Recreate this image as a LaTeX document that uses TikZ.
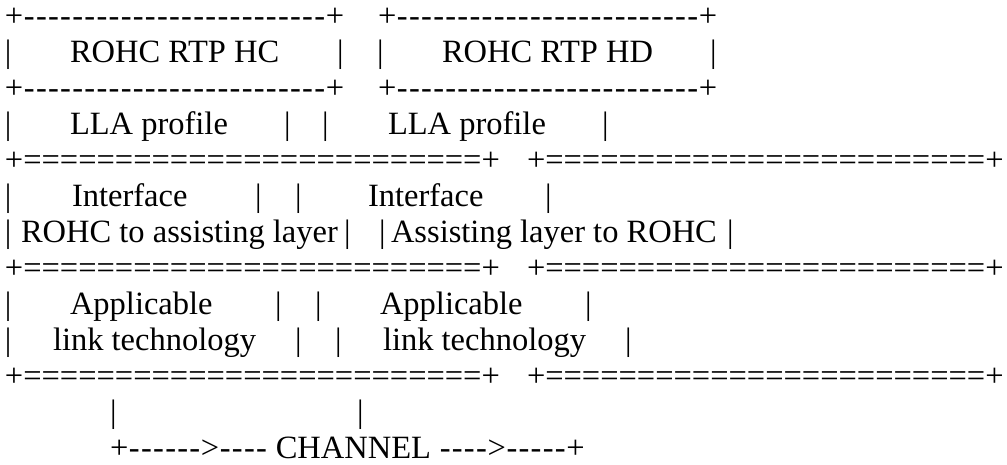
\documentclass[tikz,border=0pt]{standalone}
\usepackage{fontspec}
\setmainfont{Liberation Serif}[Ligatures=TeXOff]

% hyphens of the art are set a little wider than the font's own
\newcommand{\dashrun}[1]{\foreach \k in {1,...,#1}{\makebox[12.1pt]{-}}}
\newcommand{\eqrun}[1]{\foreach \k in {1,...,#1}{=}}

\tikzset{
  art/.style={anchor=base west, inner sep=0pt, outer sep=0pt,
    font=\fontsize{32.5}{36}\selectfont},
}

\begin{document}
\begin{tikzpicture}[x=1pt, y=1pt]
      \useasboundingbox (0,0) rectangle (1007,-464);

      % header boxes
      \node[art] (hcTop) at (5,-26) {+\dashrun{25}+};
      \node[art] (hdTop) at (378,-26) {+\dashrun{25}+};
      \node[art] (hcL) at (5,-62) {|};
      \node[art] (hcName) at (70,-62) {ROHC RTP HC};
      \node[art] (hcR) at (337,-62) {|};
      \node[art] (hdL) at (377,-62) {|};
      \node[art] (hdName) at (442,-62) {ROHC RTP HD};
      \node[art] (hdR) at (710,-62) {|};
      \node[art] (hcMid) at (5,-98) {+\dashrun{25}+};
      \node[art] (hdMid) at (378,-98) {+\dashrun{25}+};

      % profile row
      \node[art] (llaL) at (5,-134) {|};
      \node[art] (hcLla) at (70,-134) {LLA profile};
      \node[art] (llaM1) at (284,-134) {|};
      \node[art] (llaM2) at (322,-134) {|};
      \node[art] (hdLla) at (388,-134) {LLA profile};
      \node[art] (llaR) at (602,-134) {|};
      \node[art] (hcEqA) at (5,-170) {+\eqrun{25}+};
      \node[art] (hdEqA) at (527,-170) {+\eqrun{24}+};

      % interface rows
      \node[art] (ifL) at (5,-206) {|};
      \node[art] (hcIf) at (72,-206) {Interface};
      \node[art] (ifM1) at (255,-206) {|};
      \node[art] (ifM2) at (295,-206) {|};
      \node[art] (hdIf) at (368,-206) {Interface};
      \node[art] (ifR) at (545,-206) {|};
      \node[art] (dirL) at (5,-242) {|};
      \node[art] (hcDir) at (21,-242) {ROHC to assisting layer};
      \node[art] (dirM1) at (344,-242) {|};
      \node[art] (dirM2) at (379,-242) {|};
      \node[art] (hdDir) at (391,-242) {Assisting layer to ROHC};
      \node[art] (dirR) at (727,-242) {|};
      \node[art] (hcEqB) at (5,-278) {+\eqrun{25}+};
      \node[art] (hdEqB) at (527,-278) {+\eqrun{24}+};

      % link rows
      \node[art] (apL) at (5,-314) {|};
      \node[art] (hcAp) at (70,-314) {Applicable};
      \node[art] (apM1) at (275,-314) {|};
      \node[art] (apM2) at (315,-314) {|};
      \node[art] (hdAp) at (380,-314) {Applicable};
      \node[art] (apR) at (585,-314) {|};
      \node[art] (lkL) at (5,-350) {|};
      \node[art] (hcLk) at (53,-350) {link technology};
      \node[art] (lkM1) at (295,-350) {|};
      \node[art] (lkM2) at (335,-350) {|};
      \node[art] (hdLk) at (383,-350) {link technology};
      \node[art] (lkR) at (625,-350) {|};
      \node[art] (hcEqC) at (5,-386) {+\eqrun{25}+};
      \node[art] (hdEqC) at (527,-386) {+\eqrun{24}+};

      % channel
      \node[art] (hcDown) at (110,-422) {|};
      \node[art] (hdDown) at (357,-422) {|};
      \node[art] (channel) at (110,-458) {+\dashrun{6}>\dashrun{4} CHANNEL \dashrun{4}>\dashrun{5}+};
\end{tikzpicture}
\end{document}
